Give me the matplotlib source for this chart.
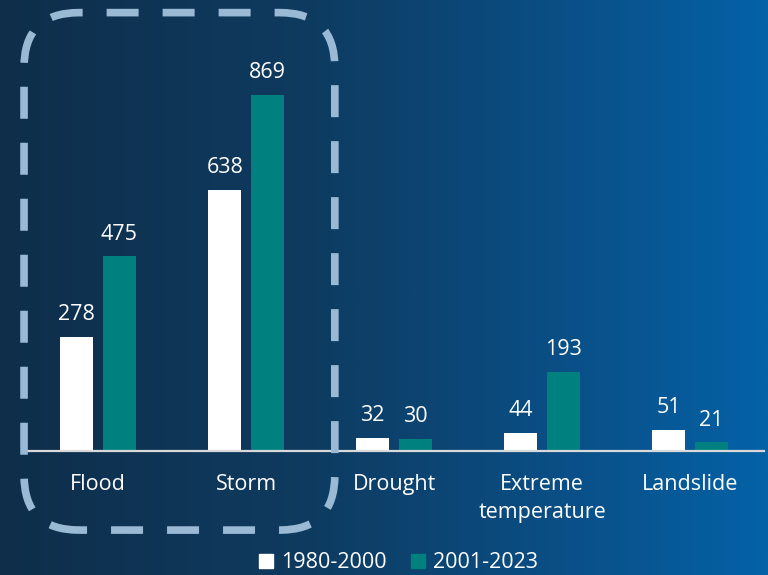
import numpy as np
import matplotlib
matplotlib.use("Agg")
import matplotlib.pyplot as plt
from matplotlib.patches import FancyBboxPatch
from matplotlib.lines import Line2D
from matplotlib.colors import LinearSegmentedColormap

categories = ["Flood", "Storm", "Drought", "Extreme\ntemperature", "Landslide"]
events_1980_2000 = [278, 638, 32, 44, 51]
events_2001_2023 = [475, 869, 30, 193, 21]
series_labels = ["1980-2000", "2001-2023"]

plt.rcParams['font.family'] = ['Open Sans', 'DejaVu Sans']

W, H, DPI = 768, 575, 100
WHITE = "#ffffff"
TEAL = "#00807e"
FS = 15.5

fig = plt.figure(figsize=(W / DPI, H / DPI), dpi=DPI)

# horizontal navy-to-blue background
bg = fig.add_axes([0, 0, 1, 1], zorder=-10)
cmap = LinearSegmentedColormap.from_list(
    "bg", [(0, "#0f2e4a"), (0.4, "#0e3b60"), (0.75, "#0a5088"), (1, "#0462a7")])
bg.imshow(np.linspace(0, 1, 512).reshape(1, -1), aspect="auto", cmap=cmap,
          extent=[0, 1, 0, 1])
bg.axis("off")

ax = fig.add_axes([27 / W, 124 / H, 737 / W, 409.7 / H])
ax.patch.set_alpha(0)
ax.set_xlim(-0.48, 4.5)
ax.set_ylim(0, 1000)

x = np.arange(len(categories))
width = 0.225
off = 0.144
bars1 = ax.bar(x - off, events_1980_2000, width, color=WHITE)
bars2 = ax.bar(x + off, events_2001_2023, width, color=TEAL)

for bars, vals in ((bars1, events_1980_2000), (bars2, events_2001_2023)):
    for rect, v in zip(bars, vals):
        ax.annotate(f"{v}", (rect.get_x() + rect.get_width() / 2, v),
                    xytext=(0, 8.5), textcoords="offset points",
                    ha="center", va="bottom", color=WHITE, fontsize=FS)

for s in ("top", "left", "right"):
    ax.spines[s].set_visible(False)
ax.spines["bottom"].set_color("#d9d9d9")
ax.spines["bottom"].set_linewidth(1.6)
ax.set_yticks([])
ax.set_xticks(x)
ax.set_xticklabels(categories)
ax.tick_params(axis="x", length=0, pad=16.5, labelsize=FS, colors=WHITE)
for lbl in ax.get_xticklabels():
    lbl.set_linespacing(1.45)

# dashed highlight around the Flood and Storm groups
(px0, py0) = ax.transData.transform((-0.5, -193))
(px1, py1) = ax.transData.transform((1.6, 1070))
lw = 5.5
box = FancyBboxPatch((px0 / DPI, py0 / DPI), (px1 - px0) / DPI, (py1 - py0) / DPI,
                     boxstyle="round,pad=0,rounding_size=0.55",
                     transform=fig.dpi_scale_trans, fill=False,
                     edgecolor="#9ab9d5", linewidth=lw,
                     linestyle=(3.14, (4.19, 3.14)), zorder=5)
fig.add_artist(box)

handles = [Line2D([], [], marker="s", ls="", color=WHITE, markersize=9.5),
           Line2D([], [], marker="s", ls="", color=TEAL, markersize=9.5)]
fig.legend(handles, series_labels, loc="center", ncol=2, frameon=False,
           bbox_to_anchor=(398.5 / W, (575 - 563) / H), fontsize=FS,
           labelcolor=WHITE, handlelength=0.7, handletextpad=0.35,
           columnspacing=1.1, borderpad=0)

fig.savefig("out.png", dpi=DPI)
